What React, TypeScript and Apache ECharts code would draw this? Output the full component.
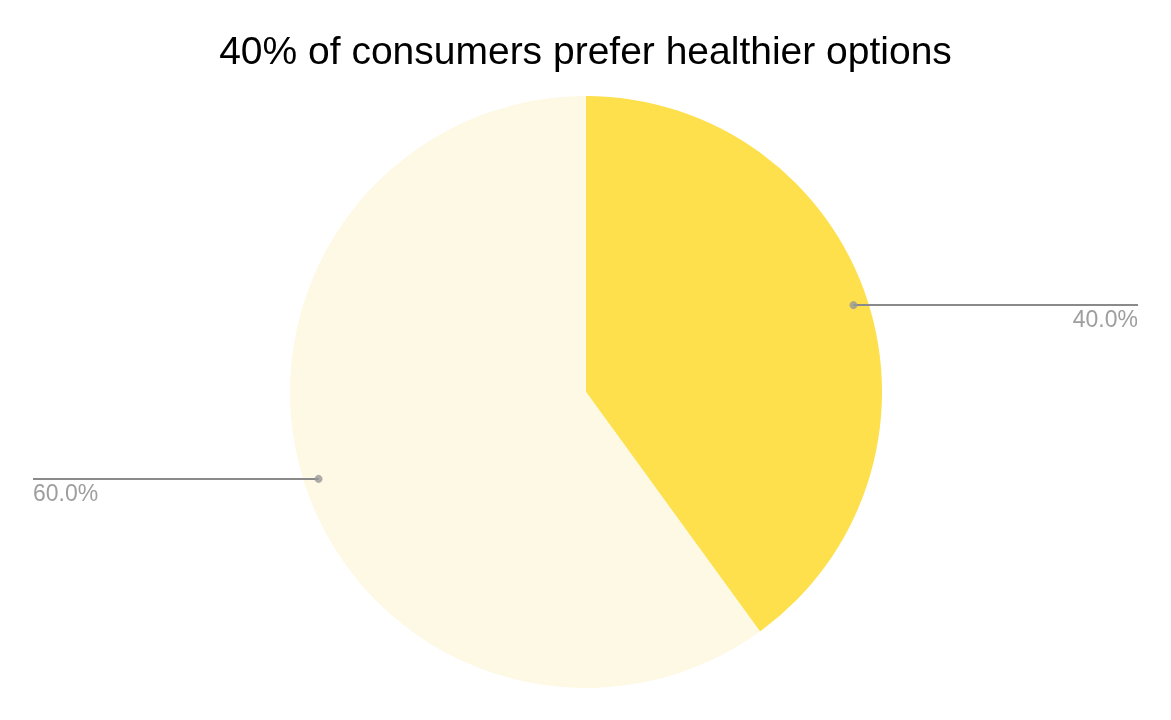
import React, { useEffect, useRef } from "react";
import * as echarts from "echarts";

const TITLE = "40% of consumers prefer healthier options";
const categories = ["Prefer healthier options", "Other"];
const values = [40, 60];
const colors = ["#FDE04B", "#FEF9E4"];

const PIE_RADIUS = 296;
const DOT_RATIO = 0.95;

export default function App() {
  const ref = useRef<HTMLDivElement>(null);
  useEffect(() => {
    if (!ref.current) return;
    const chart = echarts.init(ref.current, undefined, { renderer: "svg" });
    const total = values.reduce((a, b) => a + b, 0);
    let cum = 0;
    const mids = values.map((v) => {
      const m = cum + v / 2;
      cum += v;
      return (m / total) * 100;
    });
    const pieData = categories.map((c, i) => ({
      name: c,
      value: values[i],
      itemStyle: { color: colors[i] },
    }));
    chart.setOption({
      animation: false,
      title: {
        text: TITLE,
        left: "center",
        top: 26,
        textStyle: {
          fontFamily: "Liberation Sans, Arial, sans-serif",
          fontSize: 39,
          fontWeight: "normal",
          color: "#000",
        },
      },
      polar: { center: [586, 392], radius: PIE_RADIUS },
      angleAxis: {
        type: "value",
        min: 0,
        max: 100,
        startAngle: 90,
        clockwise: true,
        show: false,
      },
      radiusAxis: { type: "value", min: 0, max: 1, show: false },
      series: [
        {
          type: "pie",
          z: 1,
          center: [586, 392],
          radius: PIE_RADIUS,
          startAngle: 90,
          clockwise: true,
          silent: true,
          label: { show: false },
          labelLine: { show: false },
          itemStyle: { borderWidth: 0 },
          data: pieData,
        },
        {
          type: "pie",
          z: 4,
          center: [586, 392],
          radius: PIE_RADIUS * DOT_RATIO,
          startAngle: 90,
          clockwise: true,
          silent: true,
          itemStyle: { color: "rgba(0,0,0,0)", borderWidth: 0 },
          label: {
            show: true,
            formatter: (p: any) => p.percent.toFixed(1) + "%",
            alignTo: "edge",
            edgeDistance: 33,
            fontFamily: "Liberation Sans, Arial, sans-serif",
            fontSize: 23,
            color: "#9e9e9e",
          },
          labelLine: {
            show: true,
            length: 0,
            length2: 10,
            lineStyle: { color: "#8a8a8a", width: 2 },
          },
          labelLayout: (params: any) => {
            const pts = params.labelLinePoints;
            const r = params.labelRect;
            if (!pts || !r) return {};
            const p0 = pts[0];
            const isRight = r.x + r.width / 2 > p0[0];
            const endX = isRight ? r.x + r.width : r.x;
            return {
              y: p0[1] + 14,
              labelLinePoints: [p0, p0, [endX, p0[1]]],
            };
          },
          data: categories.map((c, i) => ({ name: c, value: values[i] })),
        },
        {
          type: "scatter",
          coordinateSystem: "polar",
          silent: true,
          symbol: "circle",
          symbolSize: 8,
          z: 6,
          itemStyle: { color: "#999999" },
          data: mids.map((m) => [DOT_RATIO, m]),
        },
      ],
    });
    return () => chart.dispose();
  }, []);
  return (
    <div
      ref={ref}
      style={{ position: "fixed", left: 0, top: 0, width: 1171, height: 720 }}
    />
  );
}
